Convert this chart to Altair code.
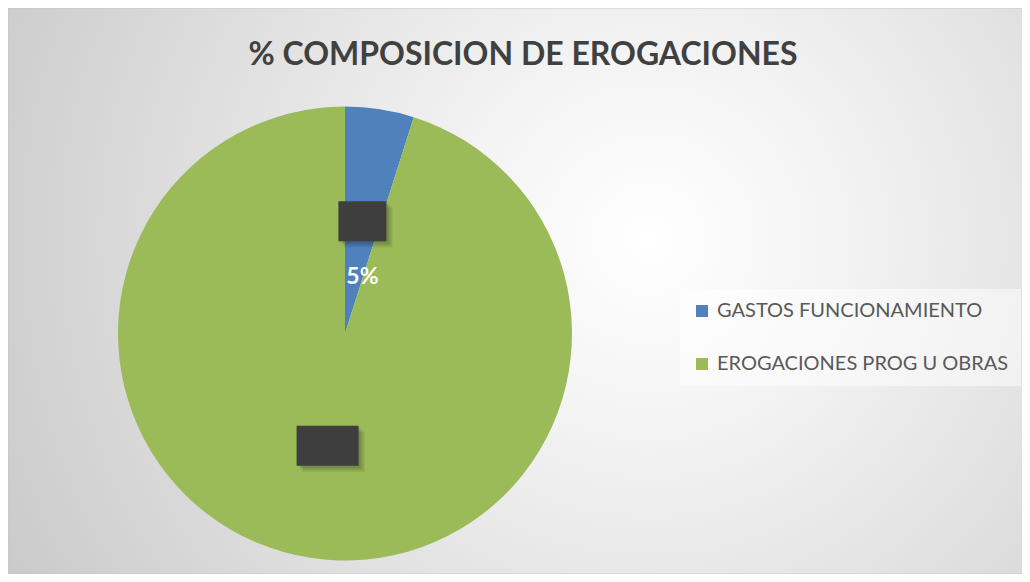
import altair as alt
import pandas as pd

# ---- data ----
categories = ["GASTOS FUNCIONAMIENTO", "EROGACIONES PROG U OBRAS"]
values = [4.9, 95.1]
colors = ["#4F81BD", "#9BBB59"]
title_text = "% COMPOSICION DE EROGACIONES"

df = pd.DataFrame({"idx": list(range(len(categories))), "category": categories, "value": values})

# ---- layout (pixels) ----
W, H = 1014, 566
CX, CY, R = 337, 325.5, 227

xs = alt.Scale(domain=[-1, 1], range=[CX - R, CX + R])
ys = alt.Scale(domain=[-1, 1], range=[CY + R, CY - R])

grad = alt.RadialGradient(
    gradient="radial",
    stops=[
        alt.GradientStop(color="#ffffff", offset=0),
        alt.GradientStop(color="#f3f3f3", offset=0.25),
        alt.GradientStop(color="#c6c6c6", offset=1),
    ],
    x1=0.62, y1=0.45, r1=0, x2=0.62, y2=0.45, r2=0.75,
)

bg = alt.Chart(pd.DataFrame({"a": [0]})).mark_rect(fill=grad, stroke="#c8c8c8", strokeWidth=1).encode(
    x=alt.value(0), x2=alt.value(W + 20), y=alt.value(0), y2=alt.value(H)
)

pie = alt.Chart(df).mark_arc(outerRadius=R).encode(
    theta=alt.Theta("value:Q", stack=True),
    color=alt.Color(
        "category:N",
        sort=categories,
        scale=alt.Scale(domain=categories, range=colors),
        legend=alt.Legend(
            orient="none", legendX=672, legendY=281, title=None,
            labelFont="Lato", labelFontSize=20, labelColor="#595959",
            symbolType="square", symbolSize=144, symbolStrokeWidth=0, symbolOpacity=1,
            rowPadding=33, padding=12, labelOffset=5, labelLimit=500,
            fillColor="rgba(255,255,255,0.5)",
        ),
    ),
    order=alt.Order("idx:Q"),
    x=alt.XDatum(datum=0, type="quantitative", scale=xs, axis=None),
    y=alt.YDatum(datum=0, type="quantitative", scale=ys, axis=None),
)

base = (
    alt.Chart(df)
    .transform_joinaggregate(total="sum(value)")
    .transform_window(cum="sum(value)", sort=[alt.SortField("idx")], frame=[None, 0])
    .transform_calculate(
        mid="2*PI*(datum.cum - datum.value/2)/datum.total",
        label="format(datum.value/datum.total, '.0%')",
    )
    .transform_calculate(
        bx="0.5*sin(datum.mid)",
        by="0.5*cos(datum.mid)",
        hw=f"(10 + 7*length(datum.label))/{R}",
        hh=f"20/{R}",
    )
    .transform_calculate(
        x1="datum.bx - datum.hw", x2="datum.bx + datum.hw",
        y1="datum.by - datum.hh", y2="datum.by + datum.hh",
        ty=f"datum.by - 56/{R}",
    )
)


def shadow_layer(off, op):
    s = off / R
    return base.transform_calculate(
        sx1=f"datum.x1 + {s}", sx2=f"datum.x2 + {s}",
        sy1=f"datum.y1 - {s}", sy2=f"datum.y2 - {s}",
    ).mark_rect(color="#000000", opacity=op).encode(
        x=alt.X("sx1:Q", scale=xs, axis=None), x2="sx2:Q",
        y=alt.Y("sy1:Q", scale=ys, axis=None), y2="sy2:Q",
    )


shadows = [shadow_layer(o, 0.09) for o in (2, 4, 6)]

box = base.mark_rect(color="#3e3e3e").encode(
    x=alt.X("x1:Q", scale=xs, axis=None), x2="x2:Q",
    y=alt.Y("y1:Q", scale=ys, axis=None), y2="y2:Q",
)

txt = base.transform_filter("datum.idx == 0").mark_text(
    font="Lato", fontSize=23, fontWeight="bold", color="white"
).encode(
    x=alt.X("bx:Q", scale=xs, axis=None),
    y=alt.Y("ty:Q", scale=ys, axis=None),
    text="label:N",
)

chart = alt.layer(bg, pie, *shadows, box, txt).properties(
    width=W, height=H,
    autosize=alt.AutoSizeParams(type="none"),
    padding=0,
    title=alt.TitleParams(
        title_text, font="Lato", fontSize=32, fontWeight="bold", color="#404040",
        anchor="middle", dx=8, dy=68,
    ),
).configure_view(stroke=None).configure(background="white")

chart.save("out.html", embed_options={"renderer": "svg", "actions": False})
